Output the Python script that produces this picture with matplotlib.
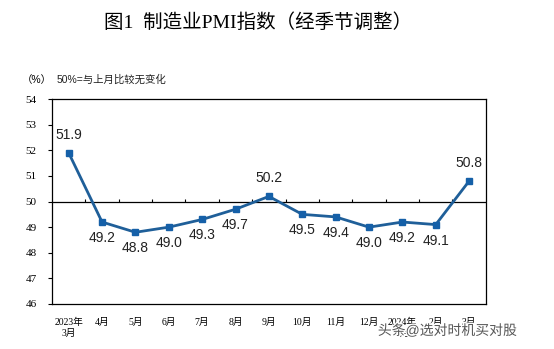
import matplotlib
matplotlib.use("Agg")
import matplotlib.pyplot as plt
import matplotlib.patheffects as pe
import numpy as np

months = ["2023年\n3月", "4月", "5月", "6月", "7月", "8月", "9月",
          "10月", "11月", "12月", "2024年\n1月", "2月", "3月"]
pmi = [51.9, 49.2, 48.8, 49.0, 49.3, 49.7, 50.2, 49.5, 49.4, 49.0, 49.2, 49.1, 50.8]
label_above = [True, False, False, False, False, False, True,
               False, False, False, False, False, True]
yticks = [46, 47, 48, 49, 50, 51, 52, 53, 54]

serif_cjk = ["Liberation Serif", "Noto Sans CJK SC"]
sans_cjk = ["Liberation Sans", "Noto Sans CJK SC"]

fig = plt.figure(figsize=(5.54, 3.49), dpi=100)
ax = fig.add_axes([0.0939, 0.129, 0.783, 0.587])

x = np.arange(len(pmi))
ax.plot(x, pmi, color="#1F5F99", lw=2.0, marker="s", ms=5,
        mfc="#1560A8", mec="#1560A8", zorder=3)

for xi, v, up in zip(x, pmi, label_above):
    ax.annotate(f"{v:.1f}", (xi, v), xytext=(0, 13 if up else -11.5),
                textcoords="offset points", ha="center", va="center",
                fontsize=10, family="Liberation Sans", color="#222222")

# 50 baseline with category boundary ticks
ax.axhline(50, color="black", lw=0.9, zorder=2)
ax.vlines(x[:-1] + 0.5, 50, 50.1, color="black", lw=0.8, zorder=2)

ax.set_xlim(-0.5, len(pmi) - 0.5)
ax.set_ylim(46, 54)
ax.set_yticks(yticks)
ax.set_yticklabels([str(t) for t in yticks], family="Liberation Serif", fontsize=8)
ax.set_xticks(x)
ax.set_xticklabels(months, family=serif_cjk, fontsize=7, linespacing=1.3)
ax.tick_params(axis="x", length=0, pad=10)
ax.tick_params(axis="y", length=3, direction="out", pad=8)
for s in ax.spines.values():
    s.set_linewidth(0.9)

fig.text(0.466, 0.935, "图1  制造业PMI指数（经季节调整）", ha="center", va="center",
         fontsize=14, family=serif_cjk)
fig.text(0.040, 0.772, "（%）", ha="left", va="center", fontsize=7.5, family=sans_cjk)
fig.text(0.103, 0.772, "50%=与上月比较无变化", ha="left", va="center",
         fontsize=7.5, family=sans_cjk, color="#222222")

fig.text(0.682, 0.052, "头条@选对时机买对股", ha="left", va="center", fontsize=10,
         family=sans_cjk, color="#555555",
         path_effects=[pe.withStroke(linewidth=2, foreground="white")])

fig.savefig("out.png", dpi=100)
